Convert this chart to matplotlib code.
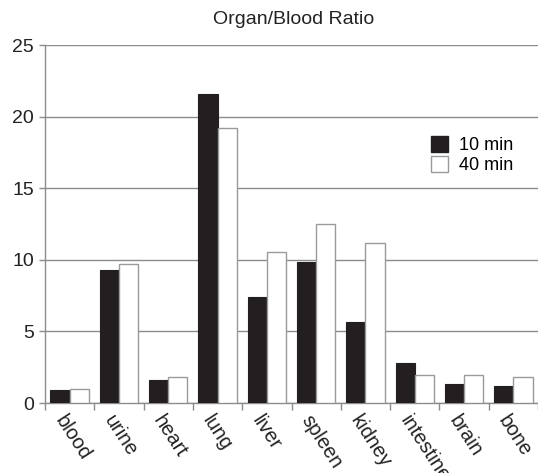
import numpy as np
import matplotlib
matplotlib.use("Agg")
import matplotlib.pyplot as plt
from matplotlib.patches import Patch

plt.rcParams['font.family'] = ['Liberation Sans', 'DejaVu Sans']

organs = ["blood", "urine", "heart", "lung", "liver", "spleen", "kidney",
          "intestine", "brain", "bone"]
ratio_10min = [0.9, 9.27, 1.63, 21.6, 7.43, 9.88, 5.66, 2.82, 1.33, 1.19]
ratio_40min = [0.95, 9.7, 1.84, 19.2, 10.56, 12.5, 11.2, 1.96, 1.96, 1.82]
yticks = [0, 5, 10, 15, 20, 25]

grid_col = "#8c8c8c"
dark = "#231f20"
text_col = "#222222"

fig = plt.figure(figsize=(5.38, 4.73), dpi=100)
ax = fig.add_axes([45 / 538, 1 - 403 / 473, 493 / 538, 358 / 473])

x = np.arange(len(organs))
w = 0.39
ax.bar(x - w / 2, ratio_10min, width=w, color=dark, edgecolor=dark,
       linewidth=0.8, zorder=3, label="10 min")
ax.bar(x + w / 2, ratio_40min, width=w, color="white", edgecolor="#9a9a9a",
       linewidth=1.0, zorder=3, label="40 min")

ax.set_xlim(-0.5, len(organs) - 0.5)
ax.set_ylim(0, 25)
ax.set_yticks(yticks)
ax.set_yticklabels([str(v) for v in yticks], fontsize=14, color=text_col)
ax.yaxis.grid(True, color=grid_col, linewidth=1.0, zorder=0)
ax.set_axisbelow(True)

# category boundary ticks on the x axis
ax.set_xticks(np.arange(len(organs) + 1) - 0.5)
ax.set_xticklabels([])
ax.tick_params(axis='x', length=5, width=1, color=grid_col, direction='out')
ax.tick_params(axis='y', length=4, width=1, color=grid_col, direction='out', pad=4)

for i, name in enumerate(organs):
    ax.annotate(name, xy=(i, 0), xycoords='data', xytext=(-2, -6),
                textcoords='offset points', rotation=-57,
                rotation_mode='anchor', ha='left', va='top',
                fontsize=14.5, color=text_col, annotation_clip=False)

for side in ("top", "right"):
    ax.spines[side].set_visible(False)
for side in ("left", "bottom"):
    ax.spines[side].set_color(grid_col)
    ax.spines[side].set_linewidth(1.0)

handles = [Patch(facecolor=dark, edgecolor=dark, label="10 min"),
           Patch(facecolor="white", edgecolor="#9a9a9a", label="40 min")]
ax.legend(handles=handles, loc='upper left', bbox_to_anchor=(0.758, 0.78),
          frameon=False, fontsize=13, handlelength=0.95, handleheight=0.95,
          handletextpad=0.6, labelspacing=0.1, borderpad=0.2)

fig.text(294 / 538, 1 - 20 / 473, "Organ/Blood Ratio", ha='center',
         va='center', fontsize=14, color=text_col)

fig.savefig("out.png", dpi=100)
